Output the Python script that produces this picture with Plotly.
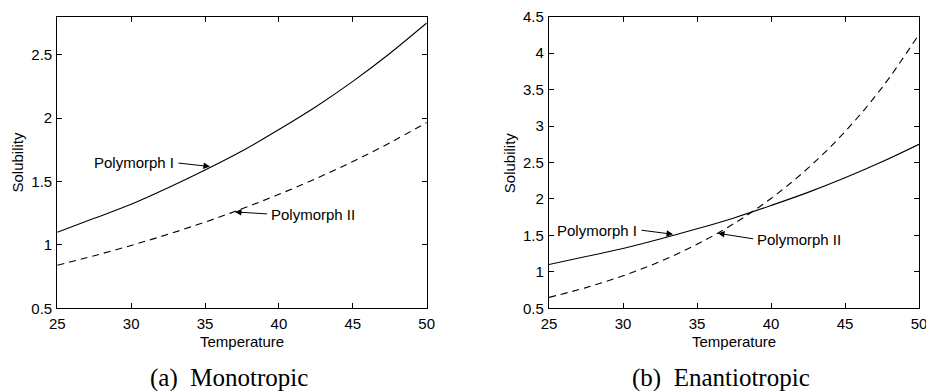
import plotly.graph_objects as go

temperature = [25, 27.5, 30, 32.5, 35, 37.5, 40, 42.5, 45, 47.5, 50]

# (a) Monotropic
mono_poly1 = [1.10, 1.21, 1.32, 1.45, 1.59, 1.74, 1.91, 2.09, 2.29, 2.51, 2.75]
mono_poly2 = [0.84, 0.915, 0.996, 1.084, 1.18, 1.285, 1.399, 1.523, 1.658, 1.805, 1.965]

# (b) Enantiotropic
enan_poly1 = [1.10, 1.21, 1.32, 1.45, 1.59, 1.74, 1.91, 2.09, 2.29, 2.51, 2.75]
enan_poly2 = [0.65, 0.784, 0.946, 1.142, 1.378, 1.663, 2.007, 2.422, 2.923, 3.527, 4.257]

x_ticks = [25, 30, 35, 40, 45, 50]
y_ticks_a = [0.5, 1, 1.5, 2, 2.5]
y_ticks_b = [0.5, 1, 1.5, 2, 2.5, 3, 3.5, 4, 4.5]

FONT = "Liberation Sans, Arial, Helvetica, sans-serif"
SERIF = "Liberation Serif, Times New Roman, serif"
W, H = 926, 391

fig = go.Figure()
solid = dict(color="black", width=1.1)
dashed = dict(color="black", width=1.1, dash="7px,5px")

fig.add_trace(go.Scatter(x=temperature, y=mono_poly1, mode="lines", line=dict(**solid, shape="spline"),
                         xaxis="x", yaxis="y", showlegend=False))
fig.add_trace(go.Scatter(x=temperature, y=mono_poly2, mode="lines", line=dict(**dashed, shape="spline"),
                         xaxis="x", yaxis="y", showlegend=False))
fig.add_trace(go.Scatter(x=temperature, y=enan_poly1, mode="lines", line=dict(**solid, shape="spline"),
                         xaxis="x2", yaxis="y2", showlegend=False))
fig.add_trace(go.Scatter(x=temperature, y=enan_poly2, mode="lines", line=dict(**dashed, shape="spline"),
                         xaxis="x2", yaxis="y2", showlegend=False))

ydom = [1 - 308.3 / H, 1 - 16.7 / H]
axis_common = dict(showline=True, linecolor="black", linewidth=1.2, mirror="ticks",
                   ticks="inside", ticklen=5, tickcolor="black", tickwidth=1,
                   showgrid=False, zeroline=False, automargin=False, ticklabeloverflow="allow",
                   tickfont=dict(family=FONT, size=15, color="black"))

fig.update_layout(
    width=W, height=H,
    margin=dict(l=0, r=0, t=0, b=0, autoexpand=False),
    paper_bgcolor="white", plot_bgcolor="white",
    xaxis=dict(domain=[57.3 / W, 426.7 / W], range=[25, 50], tickvals=x_ticks,
               ticktext=[str(v) for v in x_ticks], anchor="y", ticklabelstandoff=2, **axis_common),
    yaxis=dict(domain=ydom, range=[0.5, 2.8], tickvals=y_ticks_a,
               ticktext=[f"{v:g}" for v in y_ticks_a], anchor="x", ticklabelstandoff=1, **axis_common),
    xaxis2=dict(domain=[549 / W, 919 / W], range=[25, 50], tickvals=x_ticks,
                ticktext=[str(v) for v in x_ticks], anchor="y2", ticklabelstandoff=2, **axis_common),
    yaxis2=dict(domain=ydom, range=[0.5, 4.5], tickvals=y_ticks_b,
                ticktext=[f"{v:g}" for v in y_ticks_b], anchor="x2", ticklabelstandoff=1, **axis_common),
)

tfont = dict(family=FONT, size=15, color="black")
ann = []
# axis titles
for xc in (242 / W, 734 / W):
    ann.append(dict(text="Temperature", x=xc, y=1 - 341 / H, xref="paper", yref="paper",
                    showarrow=False, font=tfont, xanchor="center", yanchor="middle", borderpad=0))
for xc in (17 / W, 509.7 / W):
    ann.append(dict(text="Solubility", x=xc, y=1 - 162.5 / H, xref="paper", yref="paper",
                    showarrow=False, font=tfont, textangle=-90, xanchor="center", yanchor="middle"))
# captions
cfont = dict(family=SERIF, size=25, color="black")
ann.append(dict(text="(a)\u00a0 Monotropic", x=229 / W, y=1 - 378 / H, xref="paper", yref="paper",
                showarrow=False, font=cfont, xanchor="center", yanchor="middle"))
ann.append(dict(text="(b)\u00a0 Enantiotropic", x=721 / W, y=1 - 378 / H, xref="paper", yref="paper",
                showarrow=False, font=cfont, xanchor="center", yanchor="middle"))

def label(text, x, y, xr, yr, anchor):
    ann.append(dict(text=text, x=x, y=y, xref=xr, yref=yr, showarrow=False, font=tfont,
                    xanchor=anchor, yanchor="middle"))

def arrow(x0, y0, x1, y1, xr, yr):
    ann.append(dict(text="", x=x1, y=y1, ax=x0, ay=y0, xref=xr, yref=yr, axref=xr, ayref=yr,
                    showarrow=True, arrowhead=2, arrowsize=1.3, arrowwidth=1, arrowcolor="black",
                    standoff=0, startstandoff=0))

# (a) labels
label("Polymorph I", 33.05, 1.647, "x", "y", "right")
arrow(33.1, 1.647, 35.33, 1.618, "x", "y")
label("Polymorph II", 39.3, 1.236, "x", "y", "left")
arrow(39.3, 1.244, 37.02, 1.26, "x", "y")
# (b) labels
label("Polymorph I", 31.1, 1.574, "x2", "y2", "right")
arrow(31.15, 1.574, 33.38, 1.515, "x2", "y2")
label("Polymorph II", 38.9, 1.45, "x2", "y2", "left")
arrow(38.9, 1.45, 36.42, 1.529, "x2", "y2")

fig.update_layout(annotations=ann)
fig.write_html("out.html")
